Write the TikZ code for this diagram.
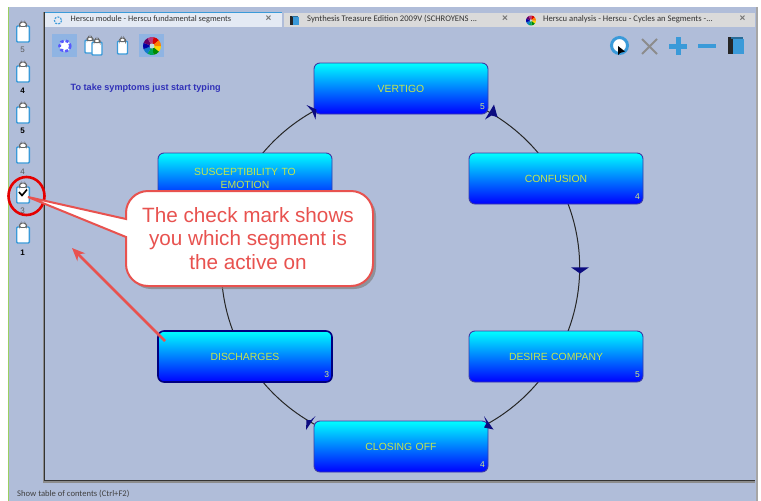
\documentclass[tikz,border=0pt]{standalone}
\usepackage{fontspec}
\setmainfont{Liberation Sans}
\newfontfamily\uifont{Carlito}
\usetikzlibrary{arrows.meta,shapes.geometric}
\pgfdeclarelayer{behind}
\pgfsetlayers{behind,main}
\definecolor{panelbg}{HTML}{B0BDD9}
\definecolor{tabgray}{HTML}{DADADA}
\definecolor{tabactive}{HTML}{E4EAF4}
\definecolor{iconblue}{HTML}{3A9AD9}
\definecolor{hilite}{HTML}{8FB4E3}
\definecolor{calloutred}{HTML}{E8524F}
\definecolor{nodeedge}{HTML}{3B3BA6}
\definecolor{labelyg}{HTML}{C4E64C}
\definecolor{headnavy}{HTML}{0C0C80}
\definecolor{hinttext}{HTML}{3030B8}
\definecolor{edgegreen}{HTML}{9CCF60}
\tikzset{
  segbox/.style={rectangle,rounded corners=6pt,minimum width=174pt,minimum height=51pt,inner sep=0pt,
    top color=cyan,bottom color=blue,draw=nodeedge,line width=0.9pt,text=labelyg,align=center,text width=165pt,
    font=\fontsize{10.4}{12.6}\selectfont},
  segcount/.style={anchor=south east,inner sep=0pt,text=labelyg!70!white,font=\fontsize{8.5}{10}\selectfont},
  link/.style={draw=black!85,line width=1pt,bend left=30,looseness=0.91},
  headshape/.style={fill=headnavy,draw=none},
  tabtext/.style={anchor=west,inner sep=0pt,text=black!80,font=\uifont\fontsize{8.6}{11}\selectfont},
  tabclose/.style={inner sep=0pt,text=black!55,font=\bfseries\fontsize{10}{10}\selectfont},
  sidenum/.style={inner sep=0pt,font=\fontsize{8}{9}\selectfont},
  pics/clipboard/.style={code={
    \draw[iconblue,line width=1.4pt,fill=white,rounded corners=1pt] (-6.3,-16) rectangle (6.3,0);
    \draw[black!60,line width=0.9pt,fill=white,rounded corners=1.5pt] (-3.5,-15.5) -- (-3.5,-18) -- (-2,-20) -- (2,-20) -- (3.5,-18) -- (3.5,-15.5) -- cycle;
  }},
  pics/swirl/.style={code={
    \foreach \a/\c in {0/yellow!75!orange,40/green!55!black,80/teal!70!green,120/cyan!60!blue,160/blue!65!black,200/violet!80!black,240/magenta!70!black,280/red!85!black,320/orange}{
      \fill[\c] (0,0) -- (\a:9) -- (\a+20:9) -- (\a+40:9) -- cycle;
    }
    \fill[white!75!teal] (0,0) circle (2.5);
  }},
  pics/bookicon/.style={code={
    \fill[black!85] (-8,-9) rectangle (-3,8);
    \fill[iconblue] (-3,-7) rectangle (8,8);
    \fill[iconblue!70!black] (-5,-9) rectangle (7,-7);
  }}
}
\begin{document}
\begin{tikzpicture}[x=1pt,y=-1pt]
\useasboundingbox (0,0) rectangle (761,501);
\begin{pgfonlayer}{behind}
\fill[white] (0,0) rectangle (761,501);
\fill[panelbg] (8,7) rectangle (756,501);
\end{pgfonlayer}
\fill[black!35] (756,7) rectangle (757.5,501);
\fill[edgegreen] (8,7) rectangle (9,501);
% inner panel
\fill[black!45] (43,12) rectangle (45,483);
\fill[black!45] (43,481) rectangle (755,483);
\draw[black!80,line width=1.1pt] (44.5,12) -- (44.5,480.5) -- (755,480.5);
% tabs
\fill[tabactive] (45,12) rectangle (281.5,27);
\fill[iconblue] (45,12) rectangle (281.5,12.8);
\fill[tabgray] (284,13) rectangle (755,27);
\draw[iconblue,line width=1.1pt,dash pattern=on 2pt off 1.2pt] (58,20.5) circle (3.6);
\node[tabtext,font=\uifont\fontsize{8.35}{11}\selectfont] (tab1) at (70.5,19.5) {Herscu module - Herscu fundamental segments};
\node[tabclose] (x1) at (268.5,19) {×};
\pic[scale=0.55] at (294.5,21) {bookicon};
\node[tabtext] (tab2) at (307,19.5) {Synthesis Treasure Edition 2009V (SCHROYENS ...};
\node[tabclose] (x2) at (505,19) {×};
\pic[scale=0.55] at (531,20.5) {swirl};
\node[tabtext] (tab3) at (543,19.5) {Herscu analysis - Herscu - Cycles an Segments -...};
\node[tabclose] (x3) at (742.5,19) {×};
% toolbar left
\fill[hilite] (52,34) rectangle (77,57);
\fill[hilite] (139,34) rectangle (164,57);
\fill[white] (65,46) circle (5.5);
\draw[blue!65!white,line width=2.6pt,dash pattern=on 3pt off 2.2pt] (65,46) circle (5.5);
\pic[scale=0.8] at (90,53) {clipboard};
\pic[scale=0.8] at (97,55) {clipboard};
\pic[scale=0.8] at (122.5,54) {clipboard};
\pic at (152,46) {swirl};
% toolbar right
\draw[iconblue,line width=3pt,fill=white] (619.5,45.5) circle (8);
\fill[black] (618,46) -- (618,55) -- (620,53) -- (625,51.5) -- cycle;
\draw[black!45,line width=1.8pt] (642,39) -- (657,54) (657,39) -- (642,54);
\draw[iconblue,line width=5pt] (678,37) -- (678,55) (669,46) -- (687,46);
\draw[iconblue,line width=4.5pt] (698,46) -- (716,46);
\pic at (736,46) {bookicon};
% sidebar
\pic at (23,42) {clipboard};
\node[sidenum,text=black!65] (n1) at (22.5,50) {5};
\pic at (23,82) {clipboard};
\node[sidenum,text=black,font=\fontsize{8}{9}\bfseries] (n2) at (22.5,90.5) {4};
\pic at (23,123) {clipboard};
\node[sidenum,text=black,font=\fontsize{8}{9}\bfseries] (n3) at (22.5,131) {5};
\pic at (23,163) {clipboard};
\node[sidenum,text=black!65] (n4) at (22.5,171.5) {4};
\pic at (23,203) {clipboard};
\node[sidenum,text=black!65] (n5) at (22.5,211) {3};
\pic at (23,243) {clipboard};
\node[sidenum,text=black,font=\fontsize{8}{9}\bfseries] (n6) at (22.5,252.5) {1};
\draw[black,line width=1.6pt] (19,192) -- (22,195.5) -- (27,189.5);
% hint and status
\node[anchor=west,inner sep=0pt,text=hinttext,font=\fontsize{9.1}{11}\bfseries] (hint) at (70.5,88) {To take symptoms just start typing};
\node[anchor=west,inner sep=0pt,text=black!75,font=\uifont\fontsize{8.6}{10}\selectfont] (status) at (17,494) {Show table of contents (Ctrl+F2)};
% segments
\node[segbox] (vertigo) at (401,88.5) {VERTIGO};
\node[segbox] (confusion) at (556,178.5) {CONFUSION};
\node[segbox] (desire) at (556,356.5) {DESIRE COMPANY};
\node[segbox] (closing) at (401,446.5) {CLOSING OFF};
\node[segbox,draw=blue!50!black,line width=1.6pt] (discharges) at (245,356.5) {DISCHARGES};
\node[segbox] (suscept) at (245,178.5) {SUSCEPTIBILITY TO\\EMOTION};
\node[segcount] (cv) at ([xshift=-3.5pt,yshift=5pt]vertigo.south east) {5};
\node[segcount] (cc) at ([xshift=-3.5pt,yshift=5pt]confusion.south east) {4};
\node[segcount] (cd) at ([xshift=-3.5pt,yshift=5pt]desire.south east) {5};
\node[segcount] (cl) at ([xshift=-3.5pt,yshift=5pt]closing.south east) {4};
\node[segcount] (cs) at ([xshift=-3.5pt,yshift=5pt]discharges.south east) {3};
% connectors, behind the segments
\begin{pgfonlayer}{behind}
\draw[link] (vertigo.center) to (confusion.center);
\draw[link] (confusion.center) to (desire.center);
\draw[link] (desire.center) to (closing.center);
\draw[link] (closing.center) to (discharges.center);
\draw[link] (discharges.center) to (suscept.center);
\draw[link] (suscept.center) to (vertigo.center);
\end{pgfonlayer}
% arrowheads
\fill[headshape] (306.5,105) -- (316.5,109.5) -- (315.5,119.5) -- (312,111) -- cycle;
\fill[headshape] (494,104.5) -- (497.5,117) -- (491.5,115.5) -- (485,119.5) -- cycle;
\fill[headshape] (571,267.3) -- (589,267.3) -- (580,273.5) -- cycle;
\fill[headshape] (484,416) -- (493.5,429.5) -- (484,427.5) -- (486.5,423) -- cycle;
\fill[headshape] (315.5,416) -- (306,430) -- (306.5,420) -- (311,420) -- cycle;
% red marks
\draw[red!90!black,line width=2.6pt] (26.5,196) ellipse (18 and 19);
\draw[calloutred,line width=2.6pt,-{Stealth[length=13pt,width=11pt]}] (165,341) -- (72,248);
% callout
\fill[black!50,opacity=0.7] (129,221) [rounded corners=22pt] -- (129,194) -- (376,194) -- (376,289) -- (129,289) [sharp corners] -- (129,240) -- cycle;
\draw[calloutred,line width=2pt,fill=white] (126,219) [rounded corners=22pt] -- (126,191) -- (373,191) -- (373,286) -- (126,286) [sharp corners] -- (126,237) -- (28,197) -- cycle;
\node[inner sep=0pt,align=center,text=calloutred,font=\fontsize{20.7}{23.4}\selectfont] (note) at (248,238.5) {The check mark shows\\you which segment is\\the active on};
\end{tikzpicture}
\end{document}
